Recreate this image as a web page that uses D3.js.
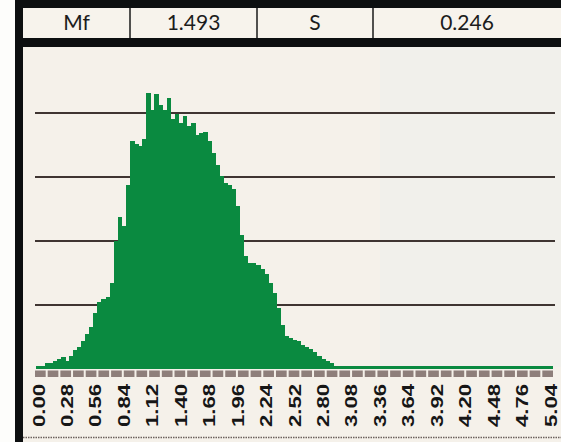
<!DOCTYPE html>
<html lang="en">
<head>
<meta charset="UTF-8">
<title>Histogram</title>
<script src="https://cdn.jsdelivr.net/npm/d3@7"></script>
<style>
  html, body { margin: 0; padding: 0; background: #fdfdfb; }
  svg { display: block; }
</style>
</head>
<body>
<div id="chart"></div>
<script>
// stats row
var statCells = ["Mf", "1.493", "S", "0.246"];

// tick labels of the x axis
var tickLabels = ["0.00", "0.28", "0.56", "0.84", "1.12", "1.40", "1.68", "1.96", "2.24",
  "2.52", "2.80", "3.08", "3.36", "3.64", "3.92", "4.20", "4.48", "4.76", "5.04"];

// histogram bins, width 0.04, starting at 0.00 (height in grid units)
var binWidth = 0.04;
var binHeights = [
  0.05, 0.05, 0.09, 0.10, 0.13, 0.16, 0.18, 0.13, 0.20, 0.29,
  0.35, 0.43, 0.55, 0.66, 0.88, 1.05, 1.10, 1.12, 1.35, 2.00,
  2.37, 2.24, 2.87, 3.57, 3.52, 3.48, 3.60, 4.32, 4.04, 4.30,
  4.12, 4.04, 4.24, 3.91, 3.99, 3.85, 3.96, 3.80, 3.85, 3.65,
  3.68, 3.70, 3.57, 3.38, 3.18, 3.02, 2.91, 2.87, 2.82, 2.55,
  2.09, 1.77, 1.66, 1.65, 1.62, 1.57, 1.49, 1.35, 1.18, 0.95,
  0.68, 0.52, 0.49, 0.46, 0.43, 0.38, 0.34, 0.32, 0.27, 0.21,
  0.16, 0.12, 0.09, 0.05, 0.05, 0.05, 0.05, 0.05, 0.05, 0.05,
  0.05, 0.05, 0.05, 0.05, 0.05, 0.05, 0.05, 0.05, 0.05, 0.05,
  0.05, 0.05, 0.05, 0.05, 0.05, 0.05, 0.05, 0.05, 0.05, 0.05,
  0.05, 0.05, 0.05, 0.05, 0.05, 0.05, 0.05, 0.05, 0.05, 0.05,
  0.05, 0.05, 0.05, 0.05, 0.05, 0.05, 0.05, 0.05, 0.05, 0.05,
  0.05, 0.05, 0.05, 0.05, 0.05, 0.05, 0.05
];
var gridValues = [1, 2, 3, 4];

var W = 561, H = 442;

var svg = d3.select("#chart").append("svg")
  .attr("width", W)
  .attr("height", H);

// panel backgrounds
svg.append("rect").attr("x", 0).attr("y", 0).attr("width", W).attr("height", H).attr("fill", "#fdfdfb");
svg.append("rect").attr("x", 23).attr("y", 47).attr("width", W - 23).attr("height", H - 47).attr("fill", "#f5f1ea");
svg.append("rect").attr("x", 380).attr("y", 47).attr("width", W - 380).attr("height", 320).attr("fill", "#f1f0eb");

// frame: left bar, top band, band under stats
svg.append("rect").attr("x", 15).attr("y", 0).attr("width", 8).attr("height", H).attr("fill", "#0d0f10");
svg.append("rect").attr("x", 15).attr("y", 0).attr("width", W - 15).attr("height", 8).attr("fill", "#0d0f10");
svg.append("rect").attr("x", 15).attr("y", 38).attr("width", W - 15).attr("height", 9).attr("fill", "#0d0f10");

// stats row
var cellEdges = [23, 130, 257, 373, W];
var stats = svg.append("g");
statCells.forEach(function(t, i) {
  stats.append("rect")
    .attr("x", cellEdges[i]).attr("y", 8)
    .attr("width", cellEdges[i + 1] - cellEdges[i]).attr("height", 30)
    .attr("fill", "#f7f3ec");
  stats.append("text")
    .attr("x", (cellEdges[i] + cellEdges[i + 1]) / 2)
    .attr("y", 30)
    .attr("text-anchor", "middle")
    .style("font-family", "Lato, 'Open Sans', sans-serif")
    .style("font-size", "21px")
    .style("fill", "#1c1c1c")
    .text(t);
});
cellEdges.slice(1, 4).forEach(function(x) {
  stats.append("line")
    .attr("x1", x).attr("x2", x).attr("y1", 8).attr("y2", 38)
    .attr("stroke", "#1a1a1a").attr("stroke-width", 1.5);
});

// scales
var x = d3.scaleLinear().domain([0, 5.04]).range([38.5, 550.5]);
var y = d3.scaleLinear().domain([0, 4]).range([369, 113]);

// gridlines
svg.append("g").selectAll("line")
  .data(gridValues)
  .enter()
  .append("line")
    .attr("x1", 35).attr("x2", 555)
    .attr("y1", function(d) { return y(d); })
    .attr("y2", function(d) { return y(d); })
    .attr("stroke", "#3f3532")
    .attr("stroke-width", 1.8);

// bars
var bw = x(binWidth) - x(0);
svg.append("g")
  .attr("shape-rendering", "crispEdges")
  .selectAll("rect")
  .data(binHeights)
  .enter()
  .append("rect")
    .attr("x", function(d, i) { return x(i * binWidth) - bw / 2; })
    .attr("y", function(d) { return y(d); })
    .attr("width", bw + 0.6)
    .attr("height", function(d) { return y(0) - y(d); })
    .attr("fill", "#0a8a40");

// axis strip
var strip = svg.append("g");
var segW = (555 - 35) / 41;
strip.selectAll("rect")
  .data(d3.range(41))
  .enter()
  .append("rect")
    .attr("x", function(d) { return 35 + d * segW; })
    .attr("y", 370.5)
    .attr("width", segW - 2)
    .attr("height", 6.5)
    .attr("fill", "#8e7f7b");

// tick labels (rotated)
svg.append("g").selectAll("text")
  .data(tickLabels)
  .enter()
  .append("text")
    .attr("transform", function(d) { return "translate(" + (x(+d) + 6) + ",384) rotate(-90)"; })
    .attr("text-anchor", "end")
    .attr("textLength", 43)
    .attr("lengthAdjust", "spacingAndGlyphs")
    .style("font-family", "'Liberation Sans', Arial, sans-serif")
    .style("font-weight", "bold")
    .style("font-size", "16px")
    .style("fill", "#161616")
    .text(function(d) { return d; });

// bottom dotted border
svg.append("line")
  .attr("x1", 23).attr("x2", W).attr("y1", 437.5).attr("y2", 437.5)
  .attr("stroke", "#6b615d")
  .attr("stroke-width", 1.5)
  .attr("stroke-dasharray", "1.5,1");
</script>
</body>
</html>
